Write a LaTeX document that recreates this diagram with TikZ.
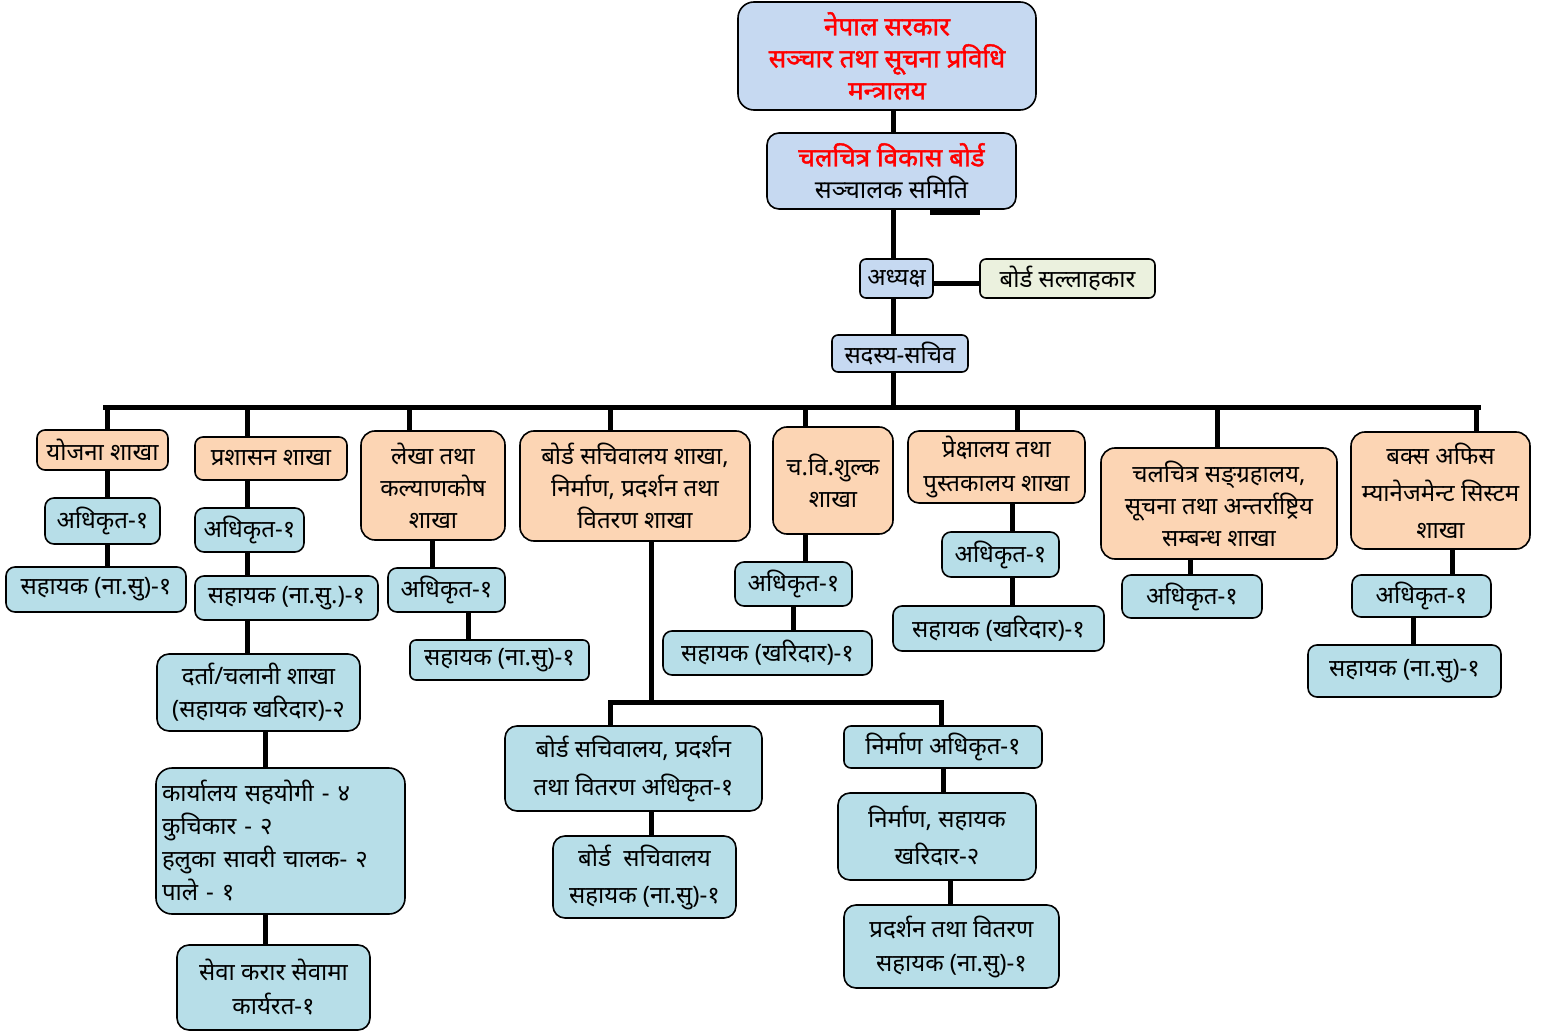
\documentclass[tikz,border=0pt]{standalone}
\usepackage{fontspec}
\newfontfamily\dev[Script=Devanagari]{Noto Sans}
\newfontfamily\devb[Script=Devanagari,FakeBold=1.6]{Noto Sans}
\definecolor{cblue}{HTML}{C6D9F1}
\definecolor{corange}{HTML}{FCD5B4}
\definecolor{cteal}{HTML}{B7DEE8}
\definecolor{cgreen}{HTML}{EBF1DE}
\definecolor{cred}{HTML}{FF0000}
\begin{document}
\begin{tikzpicture}[x=1pt,y=-1pt,
  bx/.style={draw=black, line width=1.6pt, rounded corners=9pt, inner sep=1pt, align=center, font=\dev\fontsize{24}{33}\selectfont, text=black},
  bluebox/.style={bx, fill=cblue},
  greenbox/.style={bx, fill=cgreen},
  orgbox/.style={bx, fill=corange, rounded corners=14pt},
  tealbox/.style={bx, fill=cteal},
  sz/.style n args={2}{minimum width=#1pt, minimum height=#2pt}]
\useasboundingbox (0,0) rectangle (1545,1032);
% top
\node[bluebox, sz={298}{108}, rounded corners=16pt, text=cred, font=\devb\fontsize{26}{32}\selectfont] (min) at (887,56) {नेपाल सरकार\\सञ्चार तथा सूचना प्रविधि\\मन्त्रालय};
\node[bluebox, sz={249}{76}, rounded corners=12pt, font=\dev\fontsize{25}{32}\selectfont] (brd) at (891.5,171) {{\color{cred}\devb\fontsize{26}{32}\selectfont चलचित्र विकास बोर्ड}\\सञ्चालक समिति};
\node[bluebox, sz={73}{39}, rounded corners=6pt] (adh) at (896.5,278.5) {अध्यक्ष};
\node[greenbox, sz={175}{39}, rounded corners=6pt] (adv) at (1067.5,278.5) {बोर्ड सल्लाहकार};
\node[bluebox, sz={136}{37}, rounded corners=6pt] (sad) at (900,353.5) {सदस्य-सचिव};
\fill (930,210) rectangle (980,215);
% branches
\node[orgbox, sz={131}{40}, rounded corners=8pt] (yoj) at (102.5,450) {योजना शाखा};
\node[orgbox, sz={152}{43}, rounded corners=8pt] (pra) at (271,458.5) {प्रशासन शाखा};
\node[orgbox, sz={144}{109}, font=\dev\fontsize{24}{32}\selectfont] (lek) at (433,485.5) {लेखा तथा\\कल्याणकोष\\शाखा};
\node[orgbox, sz={230}{110}, font=\dev\fontsize{24}{32}\selectfont] (bsa) at (635,486) {बोर्ड सचिवालय शाखा,\\निर्माण, प्रदर्शन तथा\\वितरण शाखा};
\node[orgbox, sz={120}{107}, font=\dev\fontsize{24}{32}\selectfont] (chv) at (833,480.5) {च.वि.शुल्क\\शाखा};
\node[orgbox, sz={177}{72}, rounded corners=11pt, font=\dev\fontsize{24}{34}\selectfont] (pre) at (996.5,467) {प्रेक्षालय तथा\\पुस्तकालय शाखा};
\node[orgbox, sz={236}{111}, font=\dev\fontsize{24}{32}\selectfont] (san) at (1219,503.5) {चलचित्र सङ्ग्रहालय,\\सूचना तथा अन्तर्राष्ट्रिय\\सम्बन्ध शाखा};
\node[orgbox, sz={179}{117}, font=\dev\fontsize{24}{37}\selectfont] (box) at (1440.5,490.5) {बक्स अफिस\\म्यानेजमेन्ट सिस्टम\\शाखा};
% teal
\node[tealbox, sz={115}{46}] (y1) at (102.5,521) {अधिकृत-१};
\node[tealbox, sz={180}{45}] (y2) at (96,589.5) {सहायक (ना.सु)-१};
\node[tealbox, sz={109}{44}] (p1) at (249.5,530) {अधिकृत-१};
\node[tealbox, sz={183}{44}] (p2) at (286.5,598) {सहायक (ना.सु.)-१};
\node[tealbox, sz={203}{77}, rounded corners=12pt] (p3) at (258.5,692.5) {दर्ता/चलानी शाखा\\(सहायक खरिदार)-२};
\node[tealbox, sz={249}{146}, rounded corners=16pt, align=left, text width=237pt] (p4) at (280.5,841) {कार्यालय सहयोगी - ४\\कुचिकार - २\\हलुका सावरी चालक- २\\पाले - १};
\node[tealbox, sz={193}{85}, rounded corners=12pt, font=\dev\fontsize{24}{34}\selectfont] (p5) at (273.5,987.5) {सेवा करार सेवामा\\कार्यरत-१};
\node[tealbox, sz={117}{44}] (l1) at (446.5,590) {अधिकृत-१};
\node[tealbox, sz={179}{40}, rounded corners=6pt] (l2) at (499.5,660) {सहायक (ना.सु)-१};
\node[tealbox, sz={257}{85}, rounded corners=12pt, font=\dev\fontsize{24}{38}\selectfont] (b1) at (633.5,768.5) {बोर्ड सचिवालय, प्रदर्शन\\तथा वितरण अधिकृत-१};
\node[tealbox, sz={183}{82}, rounded corners=12pt, font=\dev\fontsize{24}{37}\selectfont] (b2) at (644.5,877) {बोर्ड \ सचिवालय\\सहायक (ना.सु)-१};
\node[tealbox, sz={198}{42}, rounded corners=7pt] (n1) at (943,747) {निर्माण अधिकृत-१};
\node[tealbox, sz={198}{87}, rounded corners=12pt, font=\dev\fontsize{24}{37}\selectfont] (n2) at (937,836.5) {निर्माण, सहायक\\खरिदार-२};
\node[tealbox, sz={215}{83}, rounded corners=12pt, font=\dev\fontsize{24}{34}\selectfont] (n3) at (951.5,946.5) {प्रदर्शन तथा वितरण\\सहायक (ना.सु)-१};
\node[tealbox, sz={117}{44}] (c1) at (793.5,584) {अधिकृत-१};
\node[tealbox, sz={209}{44}] (c2) at (767.5,653) {सहायक (खरिदार)-१};
\node[tealbox, sz={117}{45}] (r1) at (1000.5,554.5) {अधिकृत-१};
\node[tealbox, sz={211}{45}] (r2) at (998.5,628.5) {सहायक (खरिदार)-१};
\node[tealbox, sz={140}{43}] (s1) at (1192,596.5) {अधिकृत-१};
\node[tealbox, sz={139}{42}] (o1) at (1421.5,596) {अधिकृत-१};
\node[tealbox, sz={193}{52}] (o2) at (1404.5,671) {सहायक (ना.सु)-१};
% coordinates
\coordinate (bus) at (0,407);
\coordinate (busL) at (105,407);
\coordinate (busR) at (1478,407);
\coordinate (sub) at (0,702);
\coordinate (subL) at (610,702);
\coordinate (subR) at (941,702);
\coordinate (ya) at (0,284);
\coordinate (xm) at (893,0);
\coordinate (xa) at (107,0);
\coordinate (xb) at (247,0);
\coordinate (xbb) at (265,0);
\coordinate (xc) at (409,0);
\coordinate (xcc) at (432,0);
\coordinate (xccc) at (468,0);
\coordinate (xd) at (610,0);
\coordinate (xdd) at (651,0);
\coordinate (xn) at (941,0);
\coordinate (xnn) at (943,0);
\coordinate (xnnn) at (950,0);
\coordinate (xe) at (805,0);
\coordinate (xee) at (793,0);
\coordinate (xf) at (1017,0);
\coordinate (xff) at (1012,0);
\coordinate (xg) at (1217,0);
\coordinate (xgg) at (1190,0);
\coordinate (xh) at (1476,0);
\coordinate (xhh) at (1452,0);
\coordinate (xhhh) at (1413,0);
% connectors
\begin{scope}[line width=5pt]
\draw (min.south -| xm) -- (brd.north -| xm);
\draw (brd.south -| xm) -- (adh.north -| xm);
\draw (adh.south -| xm) -- (sad.north -| xm);
\draw (sad.south -| xm) -- (bus -| xm);
\draw (adh.east |- ya) -- (adv.west |- ya);
\draw[line cap=rect] (busL) -- (busR);
\draw (bus -| xa) -- (yoj.north -| xa);
\draw (bus -| xb) -- (pra.north -| xb);
\draw (bus -| xc) -- (lek.north -| xc);
\draw (bus -| xd) -- (bsa.north -| xd);
\draw (bus -| xe) -- (chv.north -| xe);
\draw (bus -| xf) -- (pre.north -| xf);
\draw (bus -| xg) -- (san.north -| xg);
\draw (bus -| xh) -- (box.north -| xh);
\draw (yoj.south -| xa) -- (y1.north -| xa);
\draw (y1.south -| xa) -- (y2.north -| xa);
\draw (pra.south -| xb) -- (p1.north -| xb);
\draw (p1.south -| xb) -- (p2.north -| xb);
\draw (p2.south -| xb) -- (p3.north -| xb);
\draw (p3.south -| xbb) -- (p4.north -| xbb);
\draw (p4.south -| xbb) -- (p5.north -| xbb);
\draw (lek.south -| xcc) -- (l1.north -| xcc);
\draw (l1.south -| xccc) -- (l2.north -| xccc);
\draw (bsa.south -| xdd) -- (sub -| xdd);
\draw[line cap=rect] (subL) -- (subR);
\draw (subL) -- (b1.north -| xd);
\draw (subR) -- (n1.north -| xn);
\draw (b1.south -| xdd) -- (b2.north -| xdd);
\draw (n1.south -| xnn) -- (n2.north -| xnn);
\draw (n2.south -| xnnn) -- (n3.north -| xnnn);
\draw (chv.south -| xe) -- (c1.north -| xe);
\draw (c1.south -| xee) -- (c2.north -| xee);
\draw (pre.south -| xff) -- (r1.north -| xff);
\draw (r1.south -| xff) -- (r2.north -| xff);
\draw (san.south -| xgg) -- (s1.north -| xgg);
\draw (box.south -| xhh) -- (o1.north -| xhh);
\draw (o1.south -| xhhh) -- (o2.north -| xhhh);
\end{scope}
\end{tikzpicture}
\end{document}
